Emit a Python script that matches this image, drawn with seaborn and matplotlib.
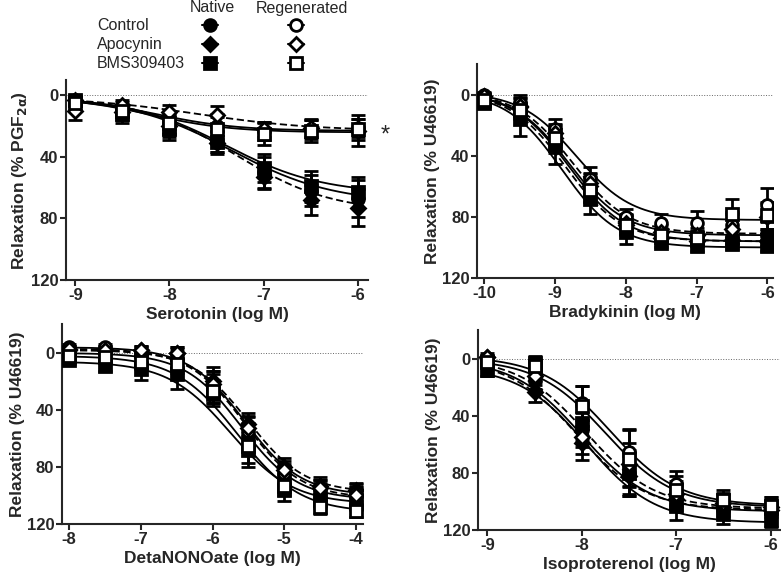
import numpy as np
import matplotlib
matplotlib.use("Agg")
import matplotlib.pyplot as plt
import seaborn as sns
from matplotlib.lines import Line2D

# series order: Control, Apocynin, BMS309403 (native), then the same (regenerated)
groups = ["Control", "Apocynin", "BMS309403"]

# Serotonin
sero_x = [-9, -8.5, -8, -7.5, -7, -6.5, -6]
sero_mean = [[3, 10, 19, 30, 50, 62, 67],
             [3, 11, 20, 31, 53, 68, 73],
             [3, 12, 22, 30, 47, 59, 63],
             [4, 8, 17, 20, 23, 22, 21],
             [10, 6, 11, 13, 22, 21, 23],
             [5, 10, 18, 22, 25, 23, 22]]
sero_sem = [[2, 4, 6, 7, 10, 10, 12],
            [2, 5, 7, 7, 8, 10, 12],
            [3, 6, 7, 7, 9, 10, 10],
            [3, 4, 7, 8, 6, 6, 6],
            [6, 3, 5, 6, 5, 6, 10],
            [2, 4, 7, 8, 7, 7, 7]]
# fitted curve parameters: top, bottom, logEC50, hill
sero_fit = [(1, 70, -7.35, 0.8), (1, 76, -7.3, 0.85), (1, 64, -7.4, 0.85),
            (1, 23, -8.15, 1.0), (1, 23, -7.7, 0.7), (1, 24, -8.2, 1.0)]

# Bradykinin
brady_x = [-10, -9.5, -9, -8.5, -8, -7.5, -7, -6.5, -6]
brady_mean = [[2, 10, 30, 62, 86, 92, 93, 93, 92],
              [1, 8, 28, 60, 85, 94, 96, 95, 96],
              [5, 16, 33, 68, 90, 97, 99, 98, 99],
              [0, 5, 22, 55, 80, 84, 84, 85, 72],
              [1, 7, 25, 58, 84, 90, 92, 88, 80],
              [3, 10, 28, 62, 85, 92, 94, 78, 79]]
brady_sem = [[2, 6, 8, 8, 6, 4, 4, 4, 4],
             [2, 6, 8, 8, 6, 3, 3, 3, 3],
             [3, 11, 12, 10, 8, 3, 3, 3, 3],
             [2, 5, 6, 8, 5, 6, 8, 8, 11],
             [2, 5, 6, 7, 6, 5, 5, 10, 9],
             [2, 5, 6, 8, 6, 5, 5, 10, 9]]
brady_fit = [(-2, 92, -8.8, 1.1), (-2, 96, -8.85, 1.1), (-2, 100, -8.9, 1.1),
             (-2, 82, -8.7, 1.1), (-2, 91, -8.75, 1.1), (-2, 96, -8.8, 1.1)]

# DetaNONOate
deta_x = [-8, -7.5, -7, -6.5, -6, -5.5, -5, -4.5, -4]
deta_mean = [[0, 0, 2, 5, 25, 58, 85, 97, 100],
             [-2, -2, -2, 0, 20, 50, 80, 93, 96],
             [5, 9, 11, 15, 29, 68, 96, 103, 105],
             [-4, -4, -1, 1, 22, 55, 84, 95, 98],
             [-3, -2, -2, 0, 22, 53, 82, 95, 100],
             [2, 3, 6, 8, 27, 65, 93, 108, 111]]
deta_sem = [[3, 3, 4, 5, 10, 9, 6, 6, 6],
            [3, 3, 3, 4, 10, 8, 6, 6, 5],
            [3, 4, 8, 10, 8, 12, 8, 6, 5],
            [2, 2, 3, 4, 9, 10, 6, 6, 6],
            [2, 2, 3, 4, 9, 9, 6, 6, 6],
            [3, 4, 5, 6, 8, 12, 7, 5, 4]]
deta_fit = [(0, 103, -5.6, 1.1), (-2, 98, -5.5, 1.1), (6, 106, -5.75, 1.0),
            (-4, 100, -5.55, 1.1), (-3, 102, -5.55, 1.1), (2, 112, -5.65, 1.0)]

# Isoproterenol
iso_x = [-9, -8.5, -8, -7.5, -7, -6.5, -6]
iso_mean = [[0, 15, 50, 80, 95, 102, 104],
            [-1, 23, 59, 82, 98, 104, 106],
            [8, 3, 45, 80, 103, 109, 113],
            [0, 8, 31, 65, 88, 100, 102],
            [-1, 12, 55, 74, 95, 101, 104],
            [2, 5, 33, 70, 92, 99, 103]]
iso_sem = [[3, 6, 12, 15, 8, 6, 5],
           [3, 7, 12, 14, 8, 6, 5],
           [4, 5, 12, 16, 10, 7, 5],
           [2, 5, 12, 16, 9, 6, 5],
           [2, 6, 12, 15, 9, 6, 5],
           [2, 5, 14, 20, 10, 7, 6]]
iso_fit = [(0, 107, -8.0, 1.2), (0, 106, -8.05, 1.2), (5, 115, -7.95, 1.2),
           (-2, 103, -7.7, 1.2), (-1, 105, -7.95, 1.2), (0, 104, -7.75, 1.2)]

sns.set_style("ticks")
plt.rcParams['font.family'] = ['Liberation Sans', 'DejaVu Sans']
plt.rcParams['mathtext.default'] = 'bf'

markers = ['o', 'D', 's', 'o', 'D', 's']
msizes = [8.5, 7.5, 8.5, 8.5, 7.5, 8.5]
filled = [True, True, True, False, False, False]
styles = ['-', (0, (4, 2)), '-', '-', (0, (4, 2)), '-']


def hill_curve(x, top, bottom, logec50, hill):
    return top + (bottom - top) / (1 + 10 ** ((logec50 - x) * hill))


def panel(ax, xs, means, sems, fits, xlim, ylim, xlabel, ylabel):
    grid = np.linspace(xs[0], xs[-1], 200)
    ax.axhline(0, color='#666666', lw=0.7, ls=':', zorder=1)
    for i in range(6):
        sns.lineplot(x=grid, y=hill_curve(grid, *fits[i]), ax=ax, color='black',
                     lw=1.3, linestyle=styles[i], zorder=2)
    for i in range(6):
        ax.errorbar(xs, means[i], yerr=sems[i], fmt='none', ecolor='black',
                    elinewidth=2, capsize=5, capthick=2, zorder=3)
    for i in range(6):
        ax.plot(xs, means[i], ls='none', marker=markers[i], ms=msizes[i],
                mfc='black' if filled[i] else 'white', mec='black', mew=2,
                zorder=4)
    ax.set_xlim(*xlim)
    ax.set_ylim(120, ylim)
    ax.set_yticks([0, 40, 80, 120])
    ax.set_xticks(np.arange(np.ceil(xs[0]), xs[-1] + 0.1, 1))
    ax.set_xticklabels([f"{int(v)}" for v in ax.get_xticks()])
    for lab in ax.get_xticklabels() + ax.get_yticklabels():
        lab.set_fontweight('bold')
        lab.set_fontsize(12)
    ax.set_xlabel(xlabel, fontsize=12.5, fontweight='bold', labelpad=3)
    ax.set_ylabel(ylabel, fontsize=12.5, fontweight='bold', labelpad=1)
    ax.tick_params(width=1.5, length=4, pad=1.5)
    for s in ['left', 'bottom']:
        ax.spines[s].set_linewidth(1.5)
    sns.despine(ax=ax)


fig = plt.figure(figsize=(7.81, 5.76), dpi=100)
ax1 = fig.add_axes([0.0845, 0.5139, 0.3867, 0.347])
ax2 = fig.add_axes([0.6108, 0.5174, 0.379, 0.3707])
ax3 = fig.add_axes([0.0794, 0.0903, 0.3854, 0.3464])
ax4 = fig.add_axes([0.612, 0.080, 0.3867, 0.3464])

panel(ax1, sero_x, sero_mean, sero_sem, sero_fit, (-9.1, -5.89), -10,
      "Serotonin (log M)", r"Relaxation (% PGF$_{2\alpha}$)")
panel(ax2, brady_x, brady_mean, brady_sem, brady_fit, (-10.1, -5.92), -20,
      "Bradykinin (log M)", "Relaxation (% U46619)")
panel(ax3, deta_x, deta_mean, deta_sem, deta_fit, (-8.1, -3.9), -20,
      "DetaNONOate (log M)", "Relaxation (% U46619)")
panel(ax4, iso_x, iso_mean, iso_sem, iso_fit, (-9.1, -5.9), -20,
      "Isoproterenol (log M)", "Relaxation (% U46619)")

ax1.text(-5.71, 26, '*', fontsize=17, ha='center', va='center', clip_on=False)

# legend block above the serotonin panel
W, H = 781, 576
fig.text(212 / W, 1 - 8 / H, "Native", ha='center', va='center', fontsize=11.5)
fig.text(302 / W, 1 - 8 / H, "Regenerated", ha='center', va='center', fontsize=11.5)
rows = [25, 44, 63]
for i, name in enumerate(groups):
    yf = 1 - rows[i] / H
    fig.text(97 / W, yf, name, ha='left', va='center', fontsize=11.5)
    for j, xc in enumerate([210, 296]):
        k = i + 3 * j
        fig.add_artist(Line2D([(xc - 8) / W, (xc + 8) / W], [yf, yf],
                              transform=fig.transFigure, color='black', lw=1.5))
        fig.add_artist(Line2D([xc / W], [yf], transform=fig.transFigure,
                              marker=markers[k], ms=msizes[k], ls='none',
                              mfc='black' if filled[k] else 'white',
                              mec='black', mew=2))

fig.savefig("out.png", dpi=100)
